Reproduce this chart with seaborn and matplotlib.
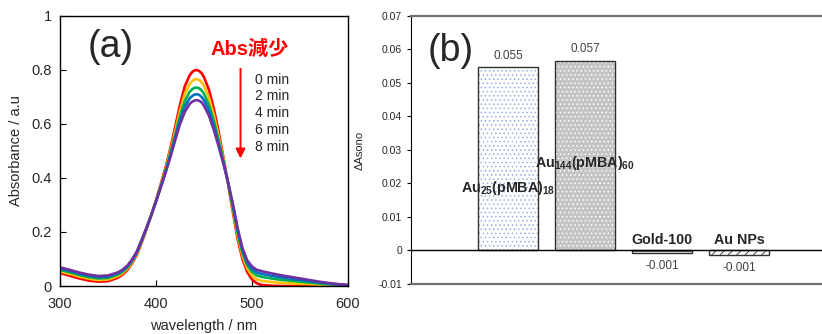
import numpy as np
import pandas as pd
import matplotlib
matplotlib.use("Agg")
import matplotlib.pyplot as plt
import seaborn as sns

# [Data]==========================================================
wavelength = [300, 310, 320, 330, 340, 350, 360, 365, 370, 375, 380, 385, 390, 395, 400, 405,
              410, 415, 420, 425, 430, 435, 437.5, 440, 442.5, 445, 447.5, 450, 455, 460, 465,
              470, 475, 480, 485, 490, 495, 500, 505, 510, 520, 530, 540, 550, 560, 570,
              580, 590, 600]

abs_0min = [.048, .038, .028, .020, .016, .018, .030, .042, .058, .084, .115, .160, .210, .262, .318, .378,
            .440, .510, .590, .672, .740, .780, .792, .798, .800, .796, .788, .773, .728, .660, .575,
            .480, .380, .275, .175, .100, .052, .024, .010, .004, .001, .000, .000, .000, .000, .000,
            .000, .000, .000]
abs_2min = [.054, .045, .035, .027, .022, .024, .036, .047, .063, .088, .119, .163, .212, .262, .316, .374,
            .434, .500, .575, .650, .712, .748, .758, .765, .766, .763, .754, .741, .699, .636, .559,
            .473, .382, .284, .187, .112, .065, .038, .025, .019, .015, .012, .010, .008, .007, .005,
            .003, .002, .001]
abs_4min = [.060, .051, .041, .033, .028, .030, .042, .052, .068, .092, .123, .166, .213, .262, .315, .370,
            .428, .491, .561, .630, .685, .719, .728, .734, .735, .732, .724, .712, .672, .614, .543,
            .466, .383, .292, .198, .123, .077, .052, .039, .034, .028, .023, .020, .016, .013, .009,
            .006, .004, .002]
abs_6min = [.065, .056, .046, .038, .033, .035, .046, .056, .072, .095, .125, .168, .214, .262, .313, .368,
            .424, .484, .550, .614, .664, .695, .703, .709, .710, .708, .700, .688, .651, .596, .531,
            .460, .384, .299, .207, .132, .086, .062, .050, .045, .038, .032, .027, .022, .018, .013,
            .009, .006, .003]
abs_8min = [.069, .060, .050, .042, .037, .039, .050, .060, .075, .098, .128, .170, .215, .262, .312, .365,
            .420, .478, .540, .600, .645, .674, .682, .687, .688, .686, .680, .667, .632, .580, .520,
            .455, .385, .305, .215, .140, .095, .072, .060, .055, .047, .040, .034, .028, .022, .016,
            .011, .007, .004]

time_labels = ["0 min", "2 min", "4 min", "6 min", "8 min"]
line_colors = ["#ff0000", "#ffc000", "#00b050", "#0070c0", "#7030a0"]

categories = ["Au25", "Au144", "Gold-100", "Au NPs"]
cat_labels = [r"Au$_\mathbf{25}$(pMBA)$_\mathbf{18}$", r"Au$_\mathbf{144}$(pMBA)$_\mathbf{60}$",
              "Gold-100", "Au NPs"]
delta_a = [0.0547, 0.0566, -0.0008, -0.0014]

# [Style]=========================================================
sns.set_style("ticks")
plt.rcParams['font.family'] = ['Liberation Sans', 'Noto Sans CJK JP', 'DejaVu Sans']
plt.rcParams['mathtext.fontset'] = 'custom'
plt.rcParams['mathtext.rm'] = 'Liberation Sans:bold'
plt.rcParams['mathtext.bf'] = 'Liberation Sans:bold'
plt.rcParams['hatch.linewidth'] = 0.6

fig = plt.figure(figsize=(8.22, 3.34), dpi=100)
ax1 = fig.add_axes([0.073, 0.1437, 0.3504, 0.8085])
ax2 = fig.add_axes([0.5, 0.1497, 0.5, 0.8025])

# [(a) spectra]===================================================
df = pd.DataFrame({"wavelength": wavelength * 5,
                   "absorbance": abs_0min + abs_2min + abs_4min + abs_6min + abs_8min,
                   "time": sum([[t] * len(wavelength) for t in time_labels], [])})
sns.lineplot(data=df, x="wavelength", y="absorbance", hue="time",
             palette=line_colors, linewidth=1.9, legend=False, ax=ax1,
             solid_joinstyle="round", solid_capstyle="round")
ax1.set_xlim(300, 600)
ax1.set_ylim(0, 1)
ax1.set_xticks([300, 400, 500, 600])
ax1.set_yticks([0, 0.2, 0.4, 0.6, 0.8, 1])
ax1.set_yticklabels(["0", "0.2", "0.4", "0.6", "0.8", "1"])
ax1.tick_params(direction="in", labelsize=10.5, length=4, color="black")
ax1.tick_params(axis="x", pad=8)
ax1.tick_params(axis="y", pad=6)
for s in ax1.spines.values():
    s.set_color("black")
    s.set_linewidth(1.0)
ax1.set_xlabel("wavelength / nm", fontsize=10.5, labelpad=6)
ax1.set_ylabel("Absorbance / a.u", fontsize=10.5, labelpad=6)

ax1.text(353, 0.885, "(a)", fontsize=27, ha="center", va="center")
ax1.text(497, 0.878, "Abs減少", fontsize=14.5, fontweight="bold", color="#ff0000",
         ha="center", va="center")
ax1.annotate("", xy=(488, 0.462), xytext=(488, 0.815),
             arrowprops=dict(arrowstyle="-|>", color="#ff0000", lw=1.4, mutation_scale=14))
for i, t in enumerate(time_labels):
    ax1.text(503, 0.764 - i * 0.062, t, fontsize=10, ha="left", va="center")

# [(b) bars]======================================================
face_colors = ["white", "#c4c4c4", "white", "white"]
hatch_colors = ["#8fb4e3", "white", "#303030", "#303030"]
hatches = ["....", "....", "-----", "////"]

sns.barplot(x=categories, y=delta_a, color="white", width=0.78, errorbar=None,
            linewidth=0, ax=ax2)
for p, fc, hc, h in zip(ax2.patches, face_colors, hatch_colors, hatches):
    p.set_facecolor(fc)
    p.set_edgecolor(hc)
    p.set_hatch(h)
    p.set_linewidth(0)
sns.barplot(x=categories, y=delta_a, fill=False, color="#303030", width=0.78,
            errorbar=None, linewidth=1.0, ax=ax2)

ax2.set_xlim(-1.26, 4.08)
ax2.set_ylim(-0.01, 0.07)
ax2.set_yticks(np.arange(-0.01, 0.0701, 0.01))
ax2.set_yticklabels(["-0.01", "0", "0.01", "0.02", "0.03", "0.04", "0.05", "0.06", "0.07"])
ax2.set_xticks([])
ax2.tick_params(axis="y", direction="out", labelsize=7.5, length=3, color="black")
ax2.axhline(0, color="black", lw=1.0)
ax2.spines["right"].set_visible(False)
ax2.spines["left"].set_color("black")
ax2.spines["top"].set_color("#707070")
ax2.spines["bottom"].set_color("#707070")
ax2.spines["top"].set_linewidth(1.6)
ax2.spines["bottom"].set_linewidth(1.6)
ax2.set_ylabel("ΔAsono", fontsize=8, labelpad=10)

ax2.text(0.097, 0.869, "(b)", fontsize=27, ha="center", va="center", transform=ax2.transAxes)

label_y = [0.0187, 0.0262, 0.0030, 0.0030]
value_y = [0.0582, 0.0600, -0.0046, -0.0052]
for i, (lab, v) in enumerate(zip(cat_labels, delta_a)):
    ax2.text(i, label_y[i], lab, fontsize=10.3, fontweight="bold", ha="center", va="center")
    ax2.text(i, value_y[i], "%.3f" % v, fontsize=8.5, color="#404040", ha="center", va="center")

fig.savefig("out.png", dpi=100)
